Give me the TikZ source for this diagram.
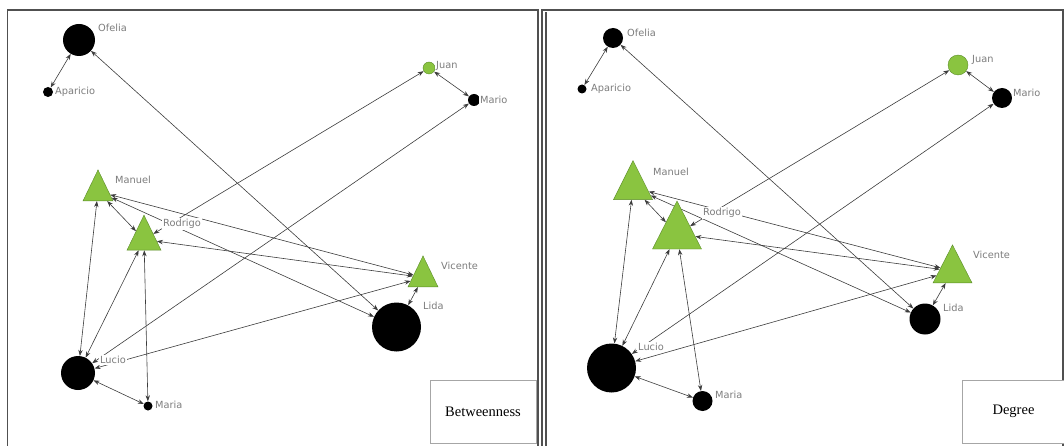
\documentclass[tikz,border=0pt]{standalone}
\usepackage{fontspec}
\newfontfamily\lblfont{DejaVu Sans}
\newfontfamily\legfont{Liberation Serif}
\usetikzlibrary{arrows.meta,shapes.geometric}
\definecolor{nodegreen}{RGB}{138,196,64}
\definecolor{greenline}{RGB}{90,140,40}
\definecolor{labelgray}{RGB}{125,125,125}
\definecolor{edgegray}{RGB}{60,60,60}
\definecolor{framegray}{RGB}{80,80,80}
\pgfdeclarelayer{edgelayer}
\pgfsetlayers{edgelayer,main}
\begin{document}
\begin{tikzpicture}[x=1pt,y=-1pt,
  blk/.style={circle,fill=black,draw=none,inner sep=0pt,minimum size=#1},
  grn/.style={circle,fill=nodegreen,draw=greenline,line width=0.4pt,inner sep=0pt,minimum size=#1},
  tri/.style 2 args={isosceles triangle,isosceles triangle stretches,shape border rotate=90,
     fill=nodegreen,draw=greenline,line width=0.4pt,inner sep=0pt,minimum width=#1,minimum height=#2},
  lbl/.style={font=\lblfont\fontsize{9.8}{10}\selectfont,text=labelgray,fill=white,inner sep=1pt,anchor=west},
  edge/.style={draw=edgegray,line width=0.6pt,{Stealth[length=6pt,width=4.4pt]}-{Stealth[length=6pt,width=4.4pt]}},
  frame/.style={draw=framegray,line width=1.2pt},
  legbox/.style={draw=gray!70,line width=0.6pt,fill=white,font=\legfont\fontsize{14.5}{16}\selectfont},
]
\useasboundingbox (0,0) rectangle (1064,446);
% frames
\draw[frame] (7.5,460) -- (7.5,10) -- (538,10) -- (538,460);
\draw[frame] (542,460) -- (542,10) -- (1075,10);
\draw[frame] (546,460) -- (546,12);
\draw[frame] (1063,10) -- (1063,460);

% ---------- left panel: Betweenness ----------
\node[blk=32] (LOfelia) at (79,40) {};
\node[blk=10] (LAparicio) at (48,92) {};
\node[grn=12] (LJuan) at (429,68) {};
\node[blk=12] (LMario) at (474,100) {};
\node[tri={30pt}{31pt}] (LManuel) at (98,191.5) {};
\node[tri={34pt}{35pt}] (LRodrigo) at (144,239.5) {};
\node[blk=34] (LLucio) at (78,373) {};
\node[blk=9] (LMaria) at (148,406) {};
\node[tri={30pt}{31pt}] (LVicente) at (423,277.5) {};
\node[blk=49] (LLida) at (396.5,327) {};

% ---------- right panel: Degree ----------
\node[blk=20] (ROfelia) at (613,38) {};
\node[blk=9] (RAparicio) at (582,89) {};
\node[grn=20] (RJuan) at (958,65) {};
\node[blk=20] (RMario) at (1002,98) {};
\node[tri={39pt}{39pt}] (RManuel) at (633,187.5) {};
\node[tri={49pt}{48pt}] (RRodrigo) at (677,234) {};
\node[blk=49] (RLucio) at (611.5,368) {};
\node[blk=20] (RMaria) at (702.5,401) {};
\node[tri={39pt}{38pt}] (RVicente) at (952.5,271) {};
\node[blk=31] (RLida) at (925,319) {};

% edges
\begin{pgfonlayer}{edgelayer}
\foreach \p in {L,R}{
  \foreach \a/\b in {Ofelia/Aparicio,Ofelia/Lida,Juan/Mario,Juan/Rodrigo,Mario/Lucio,
                     Manuel/Lucio,Manuel/Rodrigo,Manuel/Vicente,Manuel/Lida,Rodrigo/Vicente,
                     Rodrigo/Lucio,Rodrigo/Maria,Lucio/Maria,Lucio/Vicente,Lida/Vicente}{
    \draw[edge] (\p\a) -- (\p\b);
  }
}
\end{pgfonlayer}

% labels left
\node[lbl] (LOfeliaL) at (97,28) {Ofelia};
\node[lbl] (LAparicioL) at (54,92) {Aparicio};
\node[lbl] (LJuanL) at (435,66) {Juan};
\node[lbl] (LMarioL) at (479,100) {Mario};
\node[lbl] (LManuelL) at (114,180) {Manuel};
\node[lbl] (LRodrigoL) at (162,224) {Rodrigo};
\node[lbl] (LVicenteL) at (440,266) {Vicente};
\node[lbl] (LLidaL) at (422,306) {Lida};
\node[lbl] (LLucioL) at (99,360) {Lucio};
\node[lbl] (LMariaL) at (154,405) {Maria};
% labels right
\node[lbl] (ROfeliaL) at (626,33) {Ofelia};
\node[lbl] (RAparicioL) at (590,89) {Aparicio};
\node[lbl] (RJuanL) at (971,60) {Juan};
\node[lbl] (RMarioL) at (1012,93) {Mario};
\node[lbl] (RManuelL) at (652,172) {Manuel};
\node[lbl] (RRodrigoL) at (702,213) {Rodrigo};
\node[lbl] (RVicenteL) at (972,255) {Vicente};
\node[lbl] (RLidaL) at (942,308) {Lida};
\node[lbl] (RLucioL) at (637,347) {Lucio};
\node[lbl] (RMariaL) at (714,395) {Maria};

% legend boxes
\node[legbox,minimum width=106pt,minimum height=63pt] (LLeg) at (483,411.5) {Betweenness};
\node[legbox,minimum width=103pt,minimum height=63pt] (RLeg) at (1013.5,411.5) {Degree};
\end{tikzpicture}
\end{document}
